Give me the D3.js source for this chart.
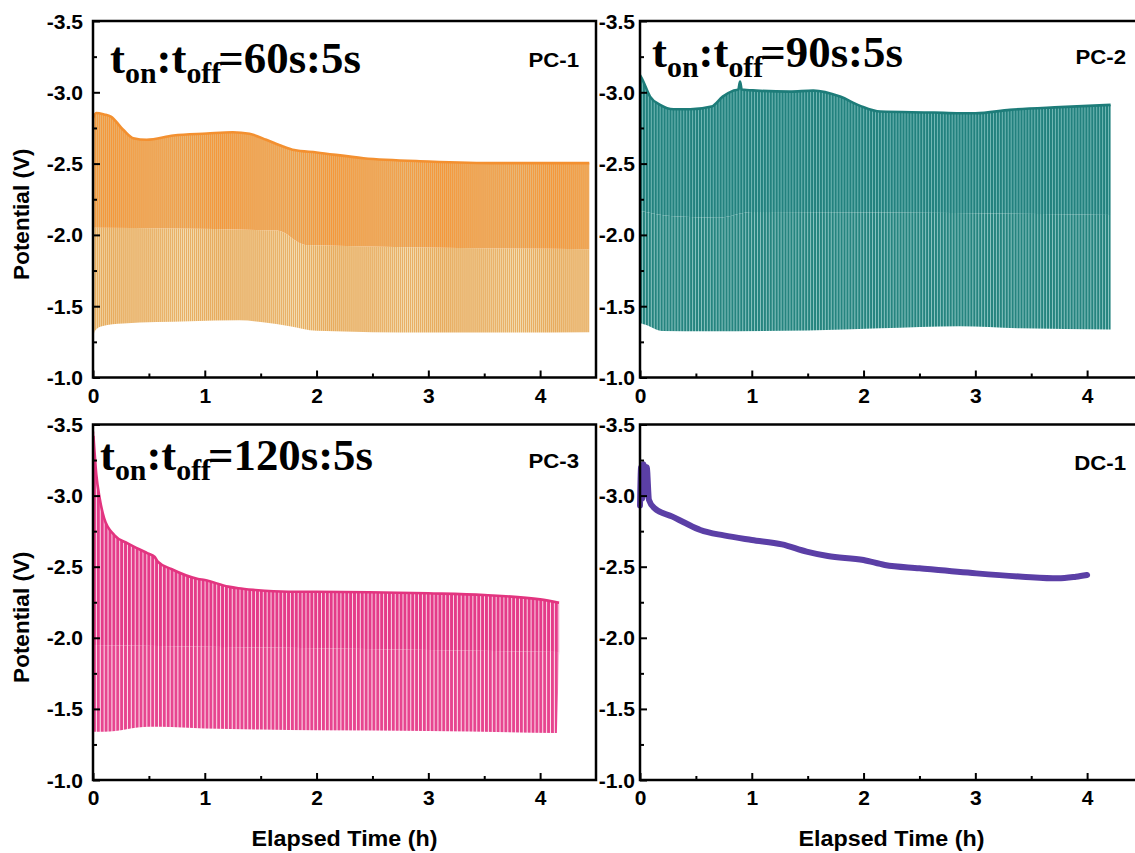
<!DOCTYPE html>
<html><head><meta charset="utf-8">
<script src="https://cdn.jsdelivr.net/npm/d3@7"></script>
<style>body{margin:0;background:#fff}svg{display:block}</style>
</head><body><svg id="c" width="1135" height="853"></svg>
<script>
// ---------------- data ----------------
const xTicks = [0, 1, 2, 3, 4];
const xMinor = [0.5, 1.5, 2.5, 3.5, 4.5];
const yTicks = [-3.5, -3.0, -2.5, -2.0, -1.5, -1.0];
const yMinor = [-3.25, -2.75, -2.25, -1.75, -1.25];
const panelNames = ["PC-1", "PC-2", "PC-3", "DC-1"];
const pulseOnSec = [60, 90, 120];
const pulseOffSec = 5;
const xTitle = "Elapsed Time (h)";
const yTitle = "Potential (V)";

// [time (h), potential (V)]
const pc1Top = [[0,-2.82],[0.03,-2.855],[0.1,-2.845],[0.16,-2.83],[0.27,-2.737],[0.36,-2.678],[0.48,-2.667],[0.72,-2.697],[1.02,-2.711],[1.25,-2.72],[1.4,-2.709],[1.55,-2.667],[1.7,-2.62],[1.8,-2.595],[2.0,-2.578],[2.42,-2.538],[3.0,-2.515],[3.62,-2.503],[4.44,-2.503]];
const pc1Mid = [[0,-2.05],[1.65,-2.03],[1.9,-1.93],[4.44,-1.9]];
const pc1Bottom = [[0,-1.28],[0.02,-1.33],[0.08,-1.36],[0.27,-1.378],[0.87,-1.394],[1.31,-1.401],[1.52,-1.387],[1.76,-1.36],[2.0,-1.328],[3.0,-1.315],[4.44,-1.318]];

const pc2Top = [[0,-3.12],[0.015,-3.10],[0.09,-2.97],[0.18,-2.912],[0.3,-2.881],[0.45,-2.881],[0.64,-2.90],[0.74,-2.97],[0.83,-3.01],[0.88,-3.02],[0.895,-3.075],[0.91,-3.02],[1.04,-3.012],[1.34,-3.005],[1.55,-3.012],[1.79,-2.97],[1.97,-2.905],[2.15,-2.865],[2.63,-2.858],[2.86,-2.853],[3.0,-2.853],[3.31,-2.877],[3.76,-2.896],[4.21,-2.912]];
const pc2Mid = [[0,-2.17],[0.3,-2.13],[0.7,-2.12],[1.0,-2.16],[4.21,-2.14]];
const pc2Bottom = [[0,-1.383],[0.05,-1.37],[0.2,-1.326],[0.6,-1.324],[1.5,-1.33],[2.15,-1.345],[2.86,-1.36],[3.4,-1.345],[4.21,-1.336]];

const pc3Spike = [[0,-1.0],[0.003,-3.45]];
const pc3Top = [[0.004,-3.42],[0.03,-3.145],[0.06,-2.98],[0.1,-2.84],[0.19,-2.723],[0.31,-2.664],[0.49,-2.594],[0.55,-2.57],[0.58,-2.535],[0.7,-2.484],[0.94,-2.414],[1.0,-2.406],[1.21,-2.36],[1.3,-2.348],[1.45,-2.336],[1.745,-2.324],[2.0,-2.324],[3.0,-2.313],[3.5,-2.301],[4.0,-2.27],[4.17,-2.247]];
const pc3Mid = [[0.004,-1.95],[4.17,-1.9]];
const pc3Bottom = [[0.004,-1.34],[0.1,-1.34],[0.5,-1.375],[0.6,-1.375],[1.0,-1.363],[1.5,-1.355],[2.0,-1.35],[3.0,-1.345],[4.15,-1.33]];

const dc1 = [[0,-2.93],[0.01,-3.2],[0.02,-2.98],[0.03,-3.22],[0.045,-3.15],[0.06,-3.2],[0.08,-2.97],[0.13,-2.911],[0.29,-2.852],[0.41,-2.805],[0.54,-2.758],[0.75,-2.72],[1.0,-2.688],[1.27,-2.657],[1.49,-2.606],[1.68,-2.575],[2.0,-2.547],[2.19,-2.512],[2.5,-2.489],[3.01,-2.453],[3.42,-2.43],[3.74,-2.418],[3.9,-2.43],[4.0,-2.442]];

// ---------------- layout / style ----------------
const svg = d3.select("#c");
svg.append("rect").attr("width",1135).attr("height",853).attr("fill","#fff");
const defs = svg.append("defs");
const PW = 503, XMAX = 4.5;
const panels = [
  {L:93,  T:21,    B:377.5, name:0, yT:true,  xT:false, lblDy:46, pad:10},
  {L:640, T:21,    B:377.5, name:1, yT:false, xT:false, lblDy:43, pad:5},
  {L:93,  T:424.5, B:780,   name:2, yT:true,  xT:true,  lblDy:43, pad:10},
  {L:640, T:424.5, B:780,   name:3, yT:false, xT:true,  lblDy:45, pad:5}
];
const SANS = "'Liberation Sans', Arial, sans-serif";
const SERIF = "'Liberation Serif', 'Times New Roman', serif";
const loc = d3.formatLocale({decimal:".", thousands:",", grouping:[3], currency:["",""], minus:"-"});
const fmtY = loc.format(".1f");
const SX = 1.08;

const series = [
  {top:pc1Top, mid:pc1Mid, bot:pc1Bottom, line:"#f39030", up:["#e8b878","#f5973a",0.5], lo:["#f2dcb0","#e8ab5e",0.6]},
  {top:pc2Top, mid:pc2Mid, bot:pc2Bottom, line:"#1d7c79", up:["#84c4c1","#22817e",0.72], lo:["#a9d8d5","#25847f",0.74]},
  {top:pc3Top, mid:pc3Mid, bot:pc3Bottom, line:"#e2347f", up:["#fbe0ec","#e43b89",0.76], lo:["#fde6f0","#e7448f",0.74]}
];

function seg(lineGen, pts) { return lineGen(pts); }

panels.forEach((p, i) => {
  const x = d3.scaleLinear().domain([0, XMAX]).range([p.L, p.L + PW]);
  const y = d3.scaleLinear().domain([-1.0, -3.5]).range([p.B, p.T]);
  const g = svg.append("g");
  const line = d3.line().x(d => x(d[0])).y(d => y(d[1])).curve(d3.curveMonotoneX);
  const lineStraight = d3.line().x(d => x(d[0])).y(d => y(d[1]));

  if (i < 3) {
    const s = series[i];
    const periodPx = x((pulseOnSec[i] + pulseOffSec) / 3600) - x(0);
    ["up","lo"].forEach(k => {
      const [bg, st, fr] = s[k];
      const pat = defs.append("pattern").attr("id", `p${i}${k}`)
        .attr("patternUnits","userSpaceOnUse").attr("x", p.L).attr("y", 0)
        .attr("width", periodPx).attr("height", 20);
      pat.append("rect").attr("width", periodPx).attr("height", 20).attr("fill", bg);
      pat.append("rect").attr("width", periodPx * fr).attr("height", 20).attr("fill", st);
    });
    const poly = (a, b) => seg(line, a) + "L" + seg(line, b.slice().reverse()).slice(1) + "Z";
    g.append("path").attr("d", poly(s.mid, s.bot)).attr("fill", `url(#p${i}lo)`);
    g.append("path").attr("d", poly(s.top, s.mid)).attr("fill", `url(#p${i}up)`);
    g.append("path").attr("d", line(s.top)).attr("fill","none").attr("stroke", s.line)
      .attr("stroke-width", 2.6).attr("stroke-linejoin","round");
    if (i === 2) {
      g.append("path").attr("d", lineStraight(pc3Spike)).attr("fill","none").attr("stroke", s.line).attr("stroke-width", 2);
    }
  } else {
    g.append("path").attr("d", line(dc1)).attr("fill","none").attr("stroke","#5b3fa6")
      .attr("stroke-width", 6).attr("stroke-linejoin","round").attr("stroke-linecap","round");
  }

  // frame
  g.append("rect").attr("x", p.L).attr("y", p.T).attr("width", PW).attr("height", p.B - p.T)
    .attr("fill","none").attr("stroke","#000").attr("stroke-width", 2.5);

  // axes
  const ya = g.append("g").attr("transform", `translate(${p.L},0)`)
    .call(d3.axisLeft(y).tickValues(yTicks).tickSizeInner(-7).tickSizeOuter(0).tickPadding(0).tickFormat(fmtY));
  const yam = g.append("g").attr("transform", `translate(${p.L},0)`)
    .call(d3.axisLeft(y).tickValues(yMinor).tickSizeInner(-4).tickSizeOuter(0).tickFormat(() => ""));
  const xa = g.append("g").attr("transform", `translate(0,${p.B})`)
    .call(d3.axisBottom(x).tickValues(xTicks).tickSizeInner(-7).tickSizeOuter(0).tickPadding(11).tickFormat(d3.format("d")));
  const xam = g.append("g").attr("transform", `translate(0,${p.B})`)
    .call(d3.axisBottom(x).tickValues(xMinor.filter(v => v < XMAX)).tickSizeInner(-4).tickSizeOuter(0).tickFormat(() => ""));
  [ya, yam, xa, xam].forEach(a => {
    a.select(".domain").remove();
    a.selectAll(".tick line").attr("stroke","#000").attr("stroke-width", 2);
    a.attr("font-family", SANS).attr("font-weight","bold");
  });
  ya.attr("font-size", 19.5);
  ya.selectAll(".tick text").attr("fill","#000").attr("x", -p.pad / SX).attr("dy","0.36em")
    .attr("transform", `scale(${SX},1)`);
  xa.attr("font-size", 20);
  xa.selectAll(".tick text").attr("fill","#000").attr("transform", `scale(1.05,1)`);

  // panel label
  g.append("text").attr("text-anchor","end").attr("font-family", SANS).attr("font-weight","bold")
    .attr("font-size", 19.5).attr("transform", `translate(${p.L + 486},${p.T + p.lblDy}) scale(1.14,1)`)
    .text(panelNames[p.name]);

  // titles
  if (p.yT) {
    g.append("text").attr("text-anchor","middle").attr("font-family", SANS).attr("font-weight","bold")
      .attr("font-size", 22.5).attr("transform", `translate(29,${(p.T + p.B) / 2 + 15}) rotate(-90)`)
      .text(yTitle);
  }
  if (p.xT) {
    g.append("text").attr("text-anchor","middle").attr("font-family", SANS).attr("font-weight","bold")
      .attr("font-size", 22).attr("transform", `translate(${p.L + PW / 2},846) scale(1.06,1)`)
      .text(xTitle);
  }

  // protocol annotation
  if (i < 3) {
    const ann = [{x0:110, base:73, w:251}, {x0:652, base:67, w:251}, {x0:100, base:470, w:273}][i];
    const t = g.append("text").attr("font-family", SERIF).attr("font-weight","bold").attr("font-size", 45)
      .attr("x", ann.x0).attr("y", ann.base).attr("fill","#000");
    t.append("tspan").text("t");
    t.append("tspan").attr("font-size", 30).attr("dy", 10).text("on");
    t.append("tspan").attr("dy", -10).text(":t");
    t.append("tspan").attr("font-size", 30).attr("dy", 10).text("off");
    t.append("tspan").attr("dy", -10).attr("dx", -3).text(`=${pulseOnSec[i]}s:${pulseOffSec}s`);
    const bb = t.node().getBBox();
    const k = ann.w / bb.width;
    t.attr("transform", `translate(${ann.x0},0) scale(${k},1) translate(${-ann.x0},0)`);
  }
});
</script></body></html>
